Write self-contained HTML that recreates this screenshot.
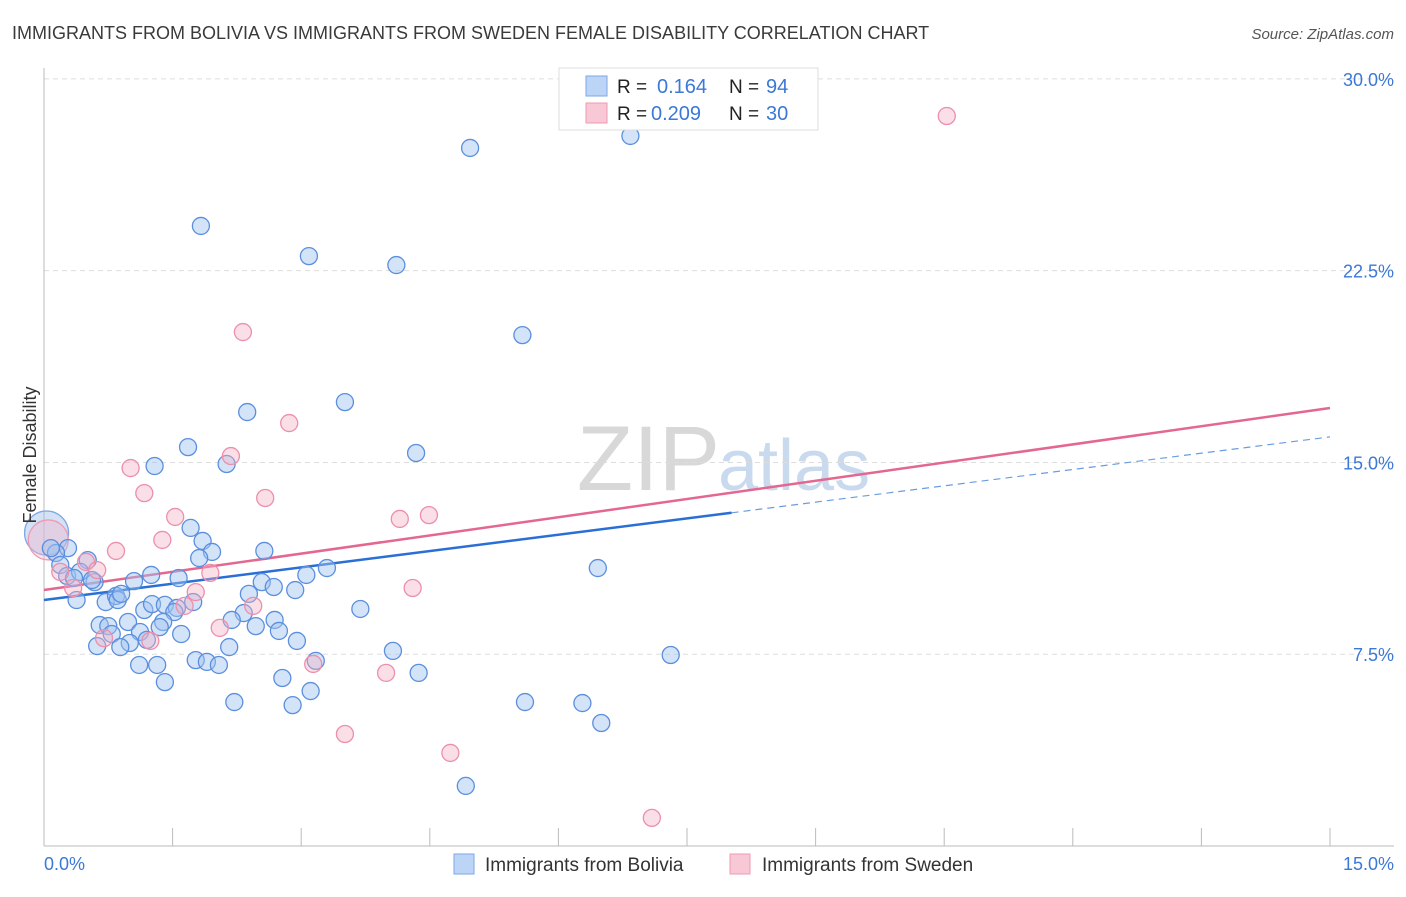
<!DOCTYPE html>
<html><head><meta charset="utf-8"><style>
body{margin:0;background:#fff;font-family:"Liberation Sans",sans-serif;}
svg text{font-family:"Liberation Sans",sans-serif;}
</style></head><body>
<svg id="chart" width="1406" height="892">
<text x="12" y="39" font-size="18" fill="#3a3a3a">IMMIGRANTS FROM BOLIVIA VS IMMIGRANTS FROM SWEDEN FEMALE DISABILITY CORRELATION CHART</text>
<text x="1394" y="39" font-size="15" fill="#555" text-anchor="end" font-style="italic">Source: ZipAtlas.com</text>
<text x="720" y="490" font-size="92" fill="#d8d8d8" text-anchor="end" font-family="Liberation Serif">ZIP</text>
<text x="718" y="490" font-size="72" fill="#c9d9ee">atlas</text>
<g id="grid"></g><g id="axes"></g><g id="lines"></g><g id="pts"></g>
<text x="36" y="455" font-size="18" fill="#333" text-anchor="middle" transform="rotate(-90 36 455)">Female Disability</text>
<text x="44" y="870" font-size="18" fill="#3b78d8">0.0%</text>
<text x="1394" y="870" font-size="18" fill="#3b78d8" text-anchor="end">15.0%</text>
<g>
<rect x="559" y="68" width="259" height="62" fill="#fff" stroke="#ddd"/>
<rect x="586" y="76" width="21" height="20" fill="#bcd4f6" stroke="#7ea7e6"/>
<rect x="586" y="103" width="21" height="20" fill="#f9c8d6" stroke="#ee9ab3"/>
<text x="617" y="93" font-size="19" fill="#222">R = </text><text x="657" y="93" font-size="20" fill="#3b78d8">0.164</text>
<text x="729" y="93" font-size="19" fill="#222">N = </text><text x="766" y="93" font-size="20" fill="#3b78d8">94</text>
<text x="617" y="120" font-size="19" fill="#222">R = </text><text x="651" y="120" font-size="20" fill="#3b78d8">0.209</text>
<text x="729" y="120" font-size="19" fill="#222">N = </text><text x="766" y="120" font-size="20" fill="#3b78d8">30</text>
</g>
<g>
<rect x="454" y="854" width="20" height="20" fill="#bcd4f6" stroke="#7ea7e6"/>
<text x="485" y="871" font-size="19" fill="#333">Immigrants from Bolivia</text>
<rect x="730" y="854" width="20" height="20" fill="#f9c8d6" stroke="#ee9ab3"/>
<text x="762" y="871" font-size="19" fill="#333">Immigrants from Sweden</text>
</g>
</svg>
<script>
const yTicks=[7.5,15,22.5,30];
const yTickLabels=["7.5%","15.0%","22.5%","30.0%"];
const xTicks=[0,1.5,3,4.5,6,7.5,9,10.5,12,13.5,15];
const boliviaX=[4.97,6.84,1.83,3.09,4.11,5.58,3.51,2.37,4.34,1.68,1.29,2.13,1.71,1.85,1.96,1.81,2.57,6.46,3.30,3.06,1.25,1.57,1.05,2.54,2.68,2.93,2.39,0.59,0.51,0.28,0.14,0.19,0.27,0.42,0.35,0.56,0.38,0.72,0.84,0.86,0.90,1.17,1.26,1.41,1.55,1.52,1.74,1.39,1.60,1.35,0.98,0.65,0.75,0.79,1.12,1.20,1.00,0.62,0.89,2.33,2.19,2.47,2.69,2.74,2.95,2.16,1.77,1.90,2.04,3.17,3.69,4.07,4.37,7.31,1.11,1.32,1.41,2.78,3.11,2.22,2.90,5.61,6.28,6.50,4.92,0.08];
const boliviaY=[27.3,27.77,24.25,23.07,22.72,19.98,17.36,16.97,15.37,15.6,14.86,14.94,12.44,11.93,11.5,11.26,11.54,10.87,10.87,10.6,10.6,10.48,10.36,10.32,10.13,10.01,9.86,10.32,11.18,11.65,11.46,10.99,10.56,10.72,10.48,10.4,9.62,9.54,9.78,9.62,9.86,9.23,9.46,9.43,9.31,9.15,9.54,8.76,8.29,8.56,8.76,8.64,8.6,8.29,8.37,8.06,7.94,7.82,7.78,9.11,8.84,8.6,8.84,8.41,8.02,7.78,7.27,7.2,7.08,7.24,9.27,7.63,6.77,7.47,7.08,7.08,6.41,6.57,6.06,5.63,5.51,5.63,5.59,4.81,2.35,11.65];
const swedenX=[10.53,2.32,2.86,2.18,1.01,1.17,2.58,1.53,4.49,4.15,1.38,0.84,0.49,0.62,1.94,0.19,0.34,1.77,4.30,1.64,2.44,2.05,0.70,1.24,3.14,3.99,3.51,4.74,7.09];
const swedenY=[28.55,20.1,16.54,15.25,14.78,13.8,13.61,12.87,12.94,12.79,11.97,11.54,11.11,10.79,10.68,10.72,10.09,9.93,10.09,9.39,9.39,8.53,8.13,8.02,7.12,6.77,4.38,3.64,1.1];
const bigBolivia=[0.03,12.24];
const bigSweden=[0.05,11.97];
const trendBolivia=[9.62,16.0];
const trendSweden=[10.01,17.13];
const X0=44,X1=1330,YB=846,PPY=25.57;
const sx=v=>X0+(X1-X0)*v/15, sy=v=>YB-v*PPY;
const NS="http://www.w3.org/2000/svg";
function mk(p,t,a){const e=document.createElementNS(NS,t);for(const k in a)e.setAttribute(k,a[k]);document.getElementById(p).appendChild(e);return e;}
yTicks.forEach((t,i)=>{
 const g=mk('grid','line',{x1:44,x2:1394,y1:sy(t),y2:sy(t),stroke:'#ddd','stroke-dasharray':'5,4'});
 
 
 const l=mk('axes','text',{x:1394,y:sy(t)+7,'font-size':18,fill:'#3b78d8','text-anchor':'end'});
 l.textContent=yTickLabels[i];
 
 
});
const ax=mk('axes','line',{x1:44,x2:44,y1:68,y2:846,stroke:'#bbb'});


const bx=mk('axes','line',{x1:44,x2:1394,y1:846,y2:846,stroke:'#bbb'});


xTicks.forEach(t=>{const k=mk('axes','line',{x1:sx(t),x2:sx(t),y1:828,y2:846,stroke:'#bbb'});
 
 });
function pt(x,y,r,f,s,n){const c=mk('pts','circle',{cx:sx(x),cy:sy(y),r:r,fill:f,stroke:s,'stroke-width':1.3});
 
 }
pt(bigBolivia[0],bigBolivia[1],22,'rgba(160,190,235,0.45)','#7ea7e6','bolivia-point-large');
pt(bigSweden[0],bigSweden[1],20,'rgba(245,180,200,0.4)','#ee9ab3','sweden-point-large');
boliviaX.forEach((x,i)=>pt(x,boliviaY[i],8.5,'rgba(160,195,240,0.45)','#5b8fde','bolivia-point'));
swedenX.forEach((x,i)=>pt(x,swedenY[i],8.5,'rgba(245,175,195,0.4)','#ec8fac','sweden-point'));
const by=x=>trendBolivia[0]+(trendBolivia[1]-trendBolivia[0])*x/15;
const l1=mk('lines','line',{x1:sx(0),y1:sy(by(0)),x2:sx(8.02),y2:sy(by(8.02)),stroke:'#2a6fd6','stroke-width':2.5});


const l2=mk('lines','line',{x1:sx(8.02),y1:sy(by(8.02)),x2:sx(15),y2:sy(by(15)),stroke:'#6a9de0','stroke-width':1.2,'stroke-dasharray':'7,5'});


const l3=mk('lines','line',{x1:sx(0),y1:sy(trendSweden[0]),x2:sx(15),y2:sy(trendSweden[1]),stroke:'#e4678f','stroke-width':2.5});


</script>
</body></html>
